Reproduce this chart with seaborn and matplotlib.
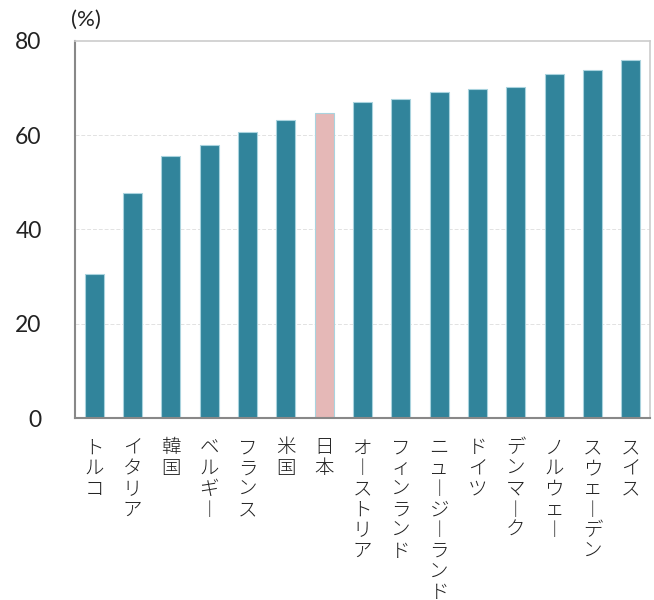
import matplotlib
matplotlib.use('Agg')
import matplotlib.pyplot as plt
import seaborn as sns
import pandas as pd

# Data
countries = ['トルコ', 'イタリア', '韓国', 'ベルギー', 'フランス', '米国', '日本',
             'オーストリア', 'フィンランド', 'ニュージーランド', 'ドイツ', 'デンマーク',
             'ノルウェー', 'スウェーデン', 'スイス']
values = [30.6, 47.8, 55.6, 58.0, 60.7, 63.3, 64.8, 67.1, 67.7, 69.1, 69.8, 70.3, 73.0, 73.9, 75.9]
highlight = '日本'
y_ticks = [0, 20, 40, 60, 80]

sns.set_style('white')
plt.rcParams['font.family'] = ['Noto Sans CJK JP', 'DejaVu Sans']

teal = '#31849B'
pink = '#E5B8B7'
palette = {c: (pink if c == highlight else teal) for c in countries}

df = pd.DataFrame({'country': countries, 'value': values})

fig = plt.figure(figsize=(6.54, 6.0), dpi=100)
ax = fig.add_axes([0.1147, 0.3033, 0.8792, 0.6284])

sns.barplot(data=df, x='country', y='value', hue='country', palette=palette,
            legend=False, width=0.5, saturation=1, edgecolor='#A9D3DE', linewidth=0.8, ax=ax)

ax.set_ylim(0, 80)
ax.set_xlim(-0.5, len(countries) - 0.5)
ax.set_yticks(y_ticks)
ax.set_yticklabels([str(v) for v in y_ticks], fontsize=16.5, color='#222222',
                   family=['Lato', 'DejaVu Sans'])

# vertical (stacked) labels, long-vowel mark drawn upright
vert_labels = ['\n'.join(c.replace('ー', '\ufe31')) for c in countries]
ax.set_xticks(range(len(countries)))
ax.set_xticklabels(vert_labels, fontsize=14, linespacing=0.98, va='top', color='#222222',
                   fontweight='light')
ax.set_xlabel('')
ax.set_ylabel('')
ax.tick_params(axis='y', length=0, pad=24)
ax.tick_params(axis='x', length=0, pad=14)

for v in y_ticks[1:-1]:
    ax.axhline(v, color='#E2E2E2', linestyle=(0, (4, 2)), linewidth=0.7, zorder=0)

ax.spines['left'].set_color('#888888')
ax.spines['left'].set_linewidth(1.5)
ax.spines['bottom'].set_color('#888888')
ax.spines['bottom'].set_linewidth(1.5)
ax.spines['top'].set_color('#CCCCCC')
ax.spines['top'].set_linewidth(1.2)
ax.spines['right'].set_color('#CCCCCC')
ax.spines['right'].set_linewidth(1.2)

fig.text(71 / 654, 1 - 20 / 600, '(%)', fontsize=16, va='center', ha='left', color='#222222',
         family=['Lato', 'DejaVu Sans'])

fig.savefig('out.png', dpi=100)
